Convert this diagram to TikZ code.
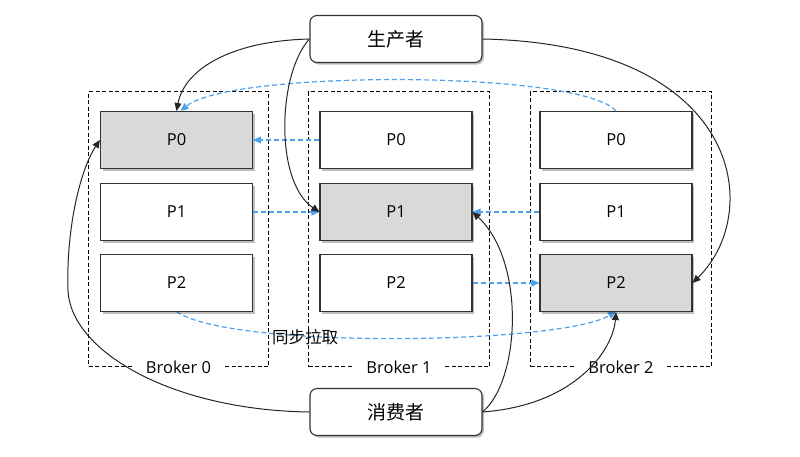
\documentclass[tikz,border=0pt]{standalone}
\usepackage{fontspec}
\setmainfont{Open Sans}
\newfontfamily\cjk{Noto Sans CJK SC}
\usetikzlibrary{arrows.meta,shadows}
\definecolor{pgray}{HTML}{D9D9D9}
\definecolor{pline}{HTML}{333333}
\definecolor{syncblue}{RGB}{80,160,235}
\tikzset{
  part/.style={draw=pline, line width=1.1pt, fill=white, minimum width=152pt, minimum height=57pt,
     inner sep=0pt, font=\fontsize{16.5}{19}\selectfont,
     drop shadow={shadow xshift=2pt, shadow yshift=-2pt, fill=black, opacity=.25}},
  leader/.style={part, fill=pgray},
  brokerbox/.style={draw=black, line width=1pt, dash pattern=on 4pt off 2.5pt, minimum height=275pt, inner sep=0pt},
  brokerlabel/.style={fill=white, inner xsep=13pt, inner ysep=2pt, font=\fontsize{16.5}{19}\selectfont},
  actor/.style={draw=pline, line width=1.1pt, fill=white, rounded corners=7pt, minimum width=172pt,
     minimum height=47pt, inner sep=0pt, font=\cjk\fontsize{19}{22}\selectfont,
     drop shadow={shadow xshift=2pt, shadow yshift=-2pt, fill=black, opacity=.25}},
  conn/.style={draw=black!85, line width=1pt, -{Triangle[length=8pt,width=7pt]}},
  sync/.style={draw=syncblue, line width=1.2pt, dash pattern=on 5pt off 3pt,
     -{Triangle[length=8pt,width=7pt,fill=syncblue]}},
}
\begin{document}
\begin{tikzpicture}[x=1pt,y=-1pt]
\useasboundingbox (0,0) rectangle (800,456);

% brokers
\node[brokerbox, minimum width=180pt] (br0) at (178.5,229) {};
\node[brokerbox, minimum width=181pt] (br1) at (399,229) {};
\node[brokerbox, minimum width=181pt] (br2) at (621,229) {};
\node[brokerlabel] (bl0) at (br0.south) {Broker 0};
\node[brokerlabel] (bl1) at (br1.south) {Broker 1};
\node[brokerlabel] (bl2) at (br2.south) {Broker 2};

% long sync curve with label
\draw[sync] (176.5,311.5) coordinate (s0) .. controls +(53,38) and +(-55,33) .. (616,311.5) coordinate (s2);
\node[font=\cjk\fontsize{16.5}{19}\selectfont, inner sep=0pt] (lbl) at (305,337) {同步拉取};

% partitions
\node[leader] (b0p0) at (176.5,140) {P0};
\node[part]   (b0p1) at (176.5,212) {P1};
\node[part]   (b0p2) at (176.5,283) {P2};
\node[part]   (b1p0) at (396,140) {P0};
\node[leader] (b1p1) at (396,212) {P1};
\node[part]   (b1p2) at (396,283) {P2};
\node[part]   (b2p0) at (616,140) {P0};
\node[part]   (b2p1) at (616,212) {P1};
\node[leader] (b2p2) at (616,283) {P2};

% producer / consumer
\node[actor] (prod) at (396,39) {生产者};
\node[actor] (cons) at (396,412) {消费者};

% sync arrows
\draw[sync] (b2p0.north) .. controls +(-36,-41) and +(50,-41) .. ([xshift=4pt]b0p0.north);
\draw[sync] (b1p0.west) -- (b0p0.east);
\draw[sync] (b0p1.east) -- (b1p1.west);
\draw[sync] (b2p1.west) -- (b1p1.east);
\draw[sync] (b1p2.east) -- (b2p2.west);

% producer arrows
\draw[conn] (prod.west) .. controls +(-80,2) and +(8,-41) .. (b0p0.north);
\draw[conn] (prod.west) .. controls +(-32,35) and +(-45,-30) .. (b1p1.west);
\draw[conn] (prod.east) .. controls +(258,5) and +(73,-72) .. (b2p2.east);

% consumer arrows
\coordinate (w4) at (68,290);
\draw[conn] (cons.west) .. controls +(-140,-2) and +(2,60) .. (w4) .. controls +(-2,-60) and +(-20,30) .. (b0p0.west);
\draw[conn] (cons.east) .. controls +(38,-32) and +(53,49) .. (b1p1.east);
\draw[conn] (cons.east) .. controls +(93,-7) and +(-3,38) .. (b2p2.south);
\end{tikzpicture}
\end{document}
